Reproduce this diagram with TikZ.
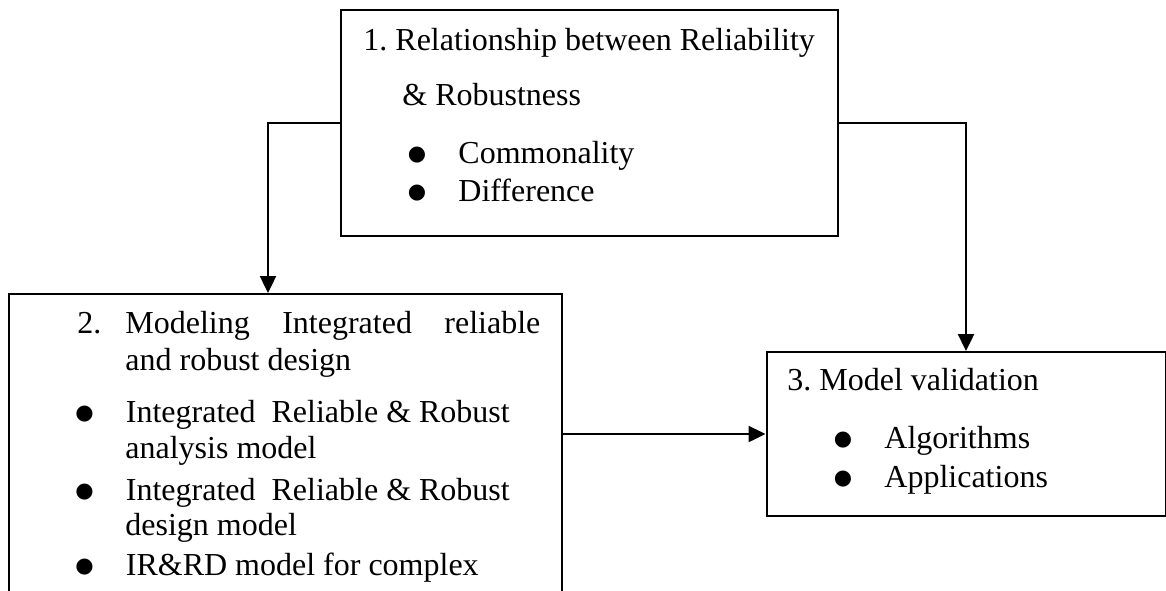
\documentclass[tikz,border=0pt]{standalone}
\usepackage{fontspec}
\setmainfont{Liberation Serif}
\newfontfamily\dotfont{DejaVu Sans}
\usetikzlibrary{arrows.meta}

\tikzset{
  box/.style={draw, line width=1pt, rectangle, inner sep=0pt},
  txt/.style={anchor=base west, inner sep=0pt},
  flow/.style={line width=1.2pt, -{Triangle[length=8.5pt,width=8pt]}},
}
% bullet followed by a tab
\newcommand\itm{\makebox[25.25pt][l]{\raisebox{1.5pt}{\dotfont\fontsize{10.5}{10.5}\selectfont ●}}}

\begin{document}
\begin{tikzpicture}[x=0.5pt, y=-0.5pt, font=\fontsize{16}{18.5}\selectfont]
  \useasboundingbox (0,0) rectangle (1166,590);
  \clip (0,0) rectangle (1166,590);
  % boxes
  \node[box, minimum width=248.5pt, minimum height=113pt] (rel) at (589.5,123) {};
  \node[box, minimum width=276.5pt, minimum height=165.5pt] (mod) at (285.5,459.5) {};
  \node[box, minimum width=199.5pt, minimum height=82pt] (val) at (966,434) {};
  \coordinate (drop) at ([xshift=-8.75pt]mod.north);
  % box 1
  \node[txt] (h1) at (363,50) {1.\ Relationship between Reliability};
  \node[txt] (h1b) at (402,105) {\& Robustness};
  \node[txt] (i11) at (407.5,163) {\itm Commonality};
  \node[txt] (i12) at (407.5,201) {\itm Difference};
  % box 2
  \node[txt] (h2) at (77,333) {2.};
  \node[txt] (h2a) at (125,333) {\makebox[207.5pt][s]{Modeling Integrated reliable}};
  \node[txt] (h2b) at (125,370) {and robust design};
  \node[txt] (i21) at (75,422) {\itm Integrated\ \ Reliable \& Robust};
  \node[txt] (i21b) at (125,458) {analysis model};
  \node[txt] (i22) at (75,500) {\itm Integrated\ \ Reliable \& Robust};
  \node[txt] (i22b) at (125,535) {design model};
  \node[txt] (i23) at (75,575) {\itm IR\&RD model for complex};
  % box 3
  \node[txt] (h3) at (787,390) {3.\ Model validation};
  \node[txt] (i31) at (833.5,448) {\itm Algorithms};
  \node[txt] (i32) at (833.5,487) {\itm Applications};
  % connectors
  \draw[flow] (rel.west) -| (drop);
  \draw[flow] (rel.east) -| (val.north);
  \draw[flow] (mod.east |- val.west) -- (val.west);
\end{tikzpicture}
\end{document}
